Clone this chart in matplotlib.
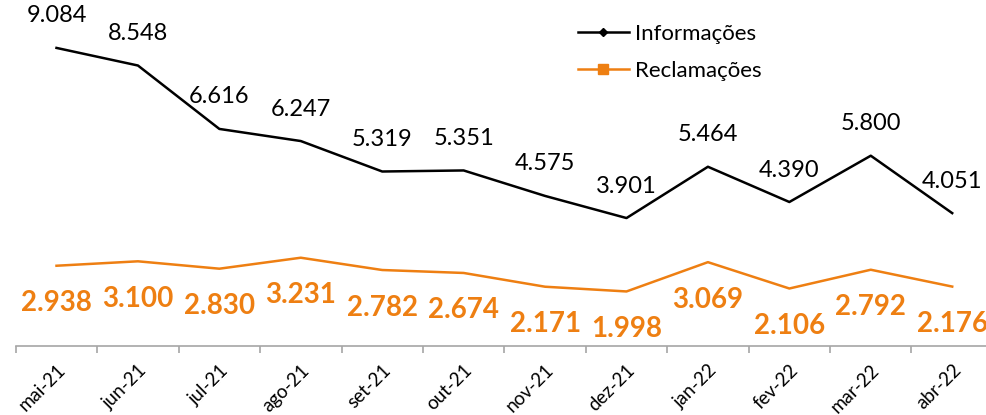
import numpy as np
import matplotlib.pyplot as plt
from matplotlib.lines import Line2D

plt.rcParams['font.family'] = ['Lato', 'DejaVu Sans']

meses = ["mai-21", "jun-21", "jul-21", "ago-21", "set-21", "out-21",
         "nov-21", "dez-21", "jan-22", "fev-22", "mar-22", "abr-22"]
informacoes = [9084, 8548, 6616, 6247, 5319, 5351, 4575, 3901, 5464, 4390, 5800, 4051]
reclamacoes = [2938, 3100, 2830, 3231, 2782, 2674, 2171, 1998, 3069, 2106, 2792, 2176]

preto = "#000000"
laranja = "#EE7F12"

def fmt(v):
    return f"{v:,}".replace(",", ".")

fig = plt.figure(figsize=(9.87, 4.15), dpi=100)
ax = fig.add_axes([0.016, 0.166, 0.99, 0.791])
ax2 = ax.twinx()

x = np.arange(len(meses))
ax.plot(x, informacoes, color=preto, lw=1.8, zorder=3)
ax2.plot(x, reclamacoes, color=laranja, lw=1.8, zorder=3)

ax.set_ylim(0, 10000)
ax2.set_ylim(0, 12000)
ax.set_xlim(-0.5, len(meses) - 0.5)

# rótulos de dados
for xi, v in zip(x, informacoes):
    ax.annotate(fmt(v), (xi, v), xytext=(0, 23), textcoords="offset points",
                ha="center", va="center", fontsize=17, color=preto)
for xi, v in zip(x, reclamacoes):
    ax2.annotate(fmt(v), (xi, v), xytext=(0, -27), textcoords="offset points",
                 ha="center", va="center", fontsize=20, fontweight="bold", color=laranja)

# eixos
for a in (ax, ax2):
    for s in ("top", "right", "left"):
        a.spines[s].set_visible(False)
    a.set_yticks([])
ax.spines["bottom"].set_color("#A6A6A6")
ax.spines["bottom"].set_linewidth(1.2)
ax2.spines["bottom"].set_visible(False)

ax.set_xticks(x)
ax.set_xticklabels(meses, rotation=45, ha="right", rotation_mode="anchor", fontsize=13.5)
ax.tick_params(axis="x", which="major", length=0, pad=11)
ax.set_xticks(np.arange(-0.5, len(meses), 1), minor=True)
ax.tick_params(axis="x", which="minor", length=5, color="#A6A6A6", width=1.2)

handles = [
    Line2D([], [], color=preto, lw=1.8, marker="D", markersize=4),
    Line2D([], [], color=laranja, lw=1.8, marker="s", markersize=7),
]
fig.legend(handles, ["Informações", "Reclamações"], loc="upper left",
           bbox_to_anchor=(0.565, 0.99), frameon=False, fontsize=16,
           handlelength=2.3, handletextpad=0.3, labelspacing=0.75)

fig.savefig("out.png", dpi=100)
